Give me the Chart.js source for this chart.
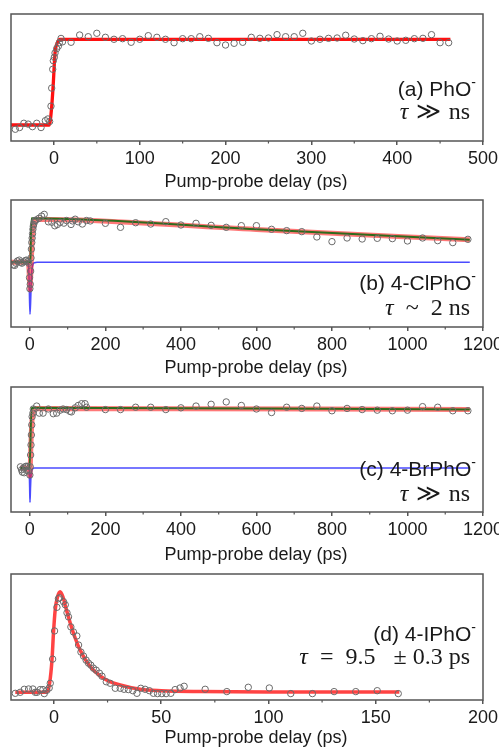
<!DOCTYPE html>
<html><head><meta charset="utf-8">
<script src="https://cdn.jsdelivr.net/npm/chart.js@4/dist/chart.umd.min.js"></script>
<style>
html,body{margin:0;padding:0;background:#fff;}
#wrap{position:relative;width:499px;height:750px;overflow:hidden;background:#fff;}
canvas{position:absolute;left:0;}
</style></head><body><div id="wrap">
<canvas id="ca" width="499" height="190" style="top:0px"></canvas>
<canvas id="cb" width="499" height="187" style="top:190px"></canvas>
<canvas id="cc" width="499" height="187" style="top:377px"></canvas>
<canvas id="cd" width="499" height="186" style="top:564px"></canvas>
</div>
<script>
// ---------- DATA ----------
const axisTitle = 'Pump-probe delay (ps)';

// (a) PhO-
const ticksA = [0, 100, 200, 300, 400, 500];
const minorA = [50, 150, 250, 350, 450];
const dataAx = [-45,-40,-35,-30,-25,-20,-15,-10,-7,-5,-3.4,-2.6,-1.4,-0.7,0.5,1.3,3.2,5.2,6.3,8.3,
  10,20,30,40,50,60,70,80,90,100,110,120,130,140,150,160,170,180,190,200,210,220,230,240,250,260,270,280,290,300,
  310,320,330,340,350,360,370,380,390,400,410,420,430,440,450,460];
const dataAy = [-0.05,-0.03,0.02,0.01,-0.02,0.02,-0.03,0.05,0.07,0.04,0.22,0.43,0.65,0.75,0.79,0.84,0.89,0.92,0.96,1.01,
  0.97,0.965,1.05,1.03,1.07,1.023,1.0,1.007,0.965,1.0,1.042,1.023,1.0,0.96,1.007,1.007,1.03,1.011,0.96,0.933,0.953,0.965,1.023,1.011,1.015,1.054,1.03,1.03,1.07,0.98,
  1.0,1.011,1.015,1.047,1.003,0.984,1.007,1.035,1.003,0.98,0.988,1.007,1.011,1.054,0.96,0.96];
const fitAx = [-50,-5.4,-2.6,-0.7,1.3,4,7,462];
const fitAy = [0,0,0.21,0.49,0.84,0.96,1.0,1.0];

// (b) 4-ClPhO-
const ticksB = [0, 200, 400, 600, 800, 1000, 1200];
const minorB = [100, 300, 500, 700, 900, 1100];
const dataBx = [-44,-40,-37,-33,-28,-24,-21,-16,-12,-9,-5,-3,
  -1,0,1,2,3,4,5,6,7,8,9,10,12,14,
  16,24,31,38,49,58,66,73,80,90,97,109,113,120,128,139,150,160,
  200,240,280,320,360,400,440,480,520,560,600,640,680,720,760,800,840,880,920,960,1000,1040,1080,1120,1160];
const dataBy = [-0.06,-0.07,-0.02,0.03,0.05,0.0,-0.02,0.01,0.04,0.05,0.02,-0.02,
  -0.35,-0.6,-0.5,-0.2,0.1,0.3,0.45,0.55,0.65,0.75,0.82,0.86,0.92,0.95,
  0.96,1.0,1.05,1.09,0.92,0.91,0.83,0.86,0.91,0.89,0.95,0.86,0.94,0.98,0.92,0.87,0.95,0.94,
  0.886,0.795,0.90,0.87,0.924,0.848,0.886,0.84,0.795,0.833,0.833,0.75,0.72,0.697,0.576,0.47,0.553,0.53,0.545,0.538,0.485,0.553,0.492,0.447,0.523];
const fitBx = [-50,-5,-2.5,-1,0.3,2,3.5,5,6.4,10.9,15.4,600,1165];
const fitBy = [0,0,-0.12,-0.45,-0.63,-0.35,0.0,0.3,0.55,0.89,0.98,0.745,0.51];
const riseBx = [-50,1.5,2.5,4.5,600,1165];
const riseBy = [0,0,0.5,1.0,0.75,0.51];
const spikeBx = [-50,-6,-3.2,-1.5,0.3,2.2,3.9,6.5,11.8,18.9,1165];
const spikeBy = [0,0,-0.1,-0.59,-1.18,-0.82,-0.36,-0.1,-0.01,0,0];

// (c) 4-BrPhO-
const ticksC = [0, 200, 400, 600, 800, 1000, 1200];
const minorC = [100, 300, 500, 700, 900, 1100];
const dataCx = [-25,-22,-20,-17,-15,-12,-10,-8,-5,-3,
  0,1,2,3,4,5,6,8,
  9,18,25,35,49,62,71,80,88,97,106,110,120,128,137,146,150,
  200,240,280,320,360,400,440,480,520,560,600,640,680,720,760,800,840,880,920,960,1000,1040,1080,1120,1160];
const dataCy = [0.02,-0.03,-0.07,0.0,-0.08,0.02,0.03,-0.04,0.03,-0.05,
  -0.12,0.02,0.22,0.39,0.56,0.73,0.87,0.93,
  1.0,1.05,0.93,0.93,1.0,0.92,0.93,0.98,1.0,0.99,0.96,0.95,1.02,1.06,1.09,1.09,1.03,
  0.99,0.99,1.03,1.03,0.99,1.02,1.05,1.08,1.12,1.06,1.0,0.94,1.03,1.01,1.05,0.97,1.01,0.99,0.98,0.97,0.98,1.04,1.03,0.97,0.97];
const fitCx = [-25,-4,-1.5,0.3,2.2,4.8,9,16,1165];
const fitCy = [0,0,-0.1,-0.13,0.28,0.73,0.95,1.01,0.99];
const riseCx = [-25,-1,4.5,1165];
const riseCy = [0,0,1.02,0.99];
const spikeCx = [-25,-3,-1.5,-0.5,0.3,1.5,3,6,12,1165];
const spikeCy = [0,0,-0.08,-0.35,-0.58,-0.35,-0.12,-0.03,0,0];

// (d) 4-IPhO-
const ticksD = [0, 50, 100, 150, 200];
const minorD = [25, 75, 125, 175];
const dataDx = [-18,-15.7,-13.8,-11.8,-9.8,-8.7,-7.9,-6.4,-5.1,-4.5,-3.3,-2.2,-1.7,-0.6,0.3,1.4,2.1,2.6,4.5,5.3,
  6.1,6.8,7.9,9.1,10.7,11.5,12.6,13.8,15,16.1,17.2,18.4,19.7,21.2,22.4,24.4,26.2,28.6,30.9,32.7,
  34.7,36.8,38.7,40.5,42.5,44.5,46.4,48.3,50.3,52.3,54.5,56.5,58.8,60.7,70.5,80.6,90.6,100.4,110.4,120.5,
  130.6,140.7,150.7,160.5];
const dataDy = [-0.01,0.0,0.03,0.033,0.033,0.0,0.0,0.027,0.027,-0.013,0.02,0.043,0.09,0.33,0.61,0.845,0.93,0.94,0.9,0.87,
  0.79,0.75,0.65,0.6,0.56,0.47,0.40,0.36,0.32,0.29,0.27,0.24,0.22,0.19,0.16,0.105,0.09,0.04,0.04,0.03,
  0.027,0.016,-0.01,0.04,0.03,0.016,-0.01,-0.013,-0.013,-0.013,-0.01,0.027,0.043,0.06,0.03,0.007,0.05,0.043,-0.013,-0.013,
  0.007,0.007,0.016,-0.013];
const fitDx = [-18,-4,-3,-2,-0.9,-0.2,0.6,1.7,2.9,4.2,5.7,7.6,9.9,12.2,15.4,19.2,24.7,30.9,40.2,50,68,100,161];
const fitDy = [0,0,0.01,0.09,0.32,0.59,0.82,0.95,1.0,0.95,0.83,0.69,0.54,0.42,0.30,0.205,0.12,0.073,0.03,0.016,0.008,0.004,0.003];

// ---------- HELPERS ----------
const pts = (xs, ys) => xs.map((x, i) => ({x: x, y: ys[i]}));
const SANS = '"Liberation Sans", Arial, sans-serif';
const SERIF = '"Liberation Serif", "Times New Roman", serif';

function circles(xs, ys) {
  return { data: pts(xs, ys), showLine: false, pointRadius: 3.2, pointHoverRadius: 3.2,
    pointBorderWidth: 1, pointBorderColor: '#6a6a6a', pointBackgroundColor: 'rgba(0,0,0,0)' };
}
function curve(xs, ys, color, width) {
  return { data: pts(xs, ys), showLine: true, pointRadius: 0, borderColor: color, borderWidth: width,
    cubicInterpolationMode: 'monotone', fill: false };
}

function drawRuns(ctx, runs, right, base) {
  let total = 0;
  runs.forEach(r => { ctx.font = r.f; total += ctx.measureText(r.t).width; });
  let x = right - total;
  runs.forEach(r => { ctx.font = r.f; ctx.fillText(r.t, x, base + (r.dy || 0)); x += ctx.measureText(r.t).width; });
}

function panelPlugin(cfg) {
  return {
    id: 'panel_' + cfg.id,
    afterDraw(chart) {
      const ctx = chart.ctx, a = chart.chartArea, xs = chart.scales.x;
      ctx.save();
      ctx.strokeStyle = '#555555'; ctx.lineWidth = 1.5;
      ctx.strokeRect(a.left, a.top, a.right - a.left, a.bottom - a.top);
      ctx.lineWidth = 1.2;
      cfg.minor.forEach(v => {
        const px = xs.getPixelForValue(v);
        ctx.beginPath(); ctx.moveTo(px, a.bottom); ctx.lineTo(px, a.bottom + 2.5); ctx.stroke();
      });
      ctx.fillStyle = '#1a1a1a';
      ctx.textAlign = 'center'; ctx.textBaseline = 'middle';
      ctx.font = '18px ' + SANS;
      ctx.fillText(axisTitle, (a.left + a.right) / 2 + 9, cfg.titleY);
      ctx.textAlign = 'left'; ctx.textBaseline = 'alphabetic';
      drawRuns(ctx, [{t: cfg.name, f: '21px ' + SANS}, {t: '-', f: '14px ' + SANS, dy: -9}], 476, cfg.nameBase);
      drawRuns(ctx, cfg.tau, 470, cfg.tauBase);
      ctx.restore();
    }
  };
}

function makeChart(cfg) {
  return new Chart(document.getElementById(cfg.id), {
    type: 'scatter',
    data: { datasets: cfg.datasets },
    options: {
      responsive: false, animation: false, events: [],
      layout: { padding: { left: 11, right: 16, top: cfg.padTop, bottom: 0 } },
      plugins: { legend: { display: false }, tooltip: { enabled: false } },
      scales: {
        x: {
          type: 'linear', min: cfg.xmin, max: cfg.xmax,
          afterBuildTicks: s => { s.ticks = cfg.ticks.map(v => ({ value: v })); },
          afterFit: s => { s.height = cfg.axisH; s.paddingLeft = 0; s.paddingRight = 0; },
          grid: { display: true, drawOnChartArea: false, drawTicks: true, tickLength: 4, color: '#555555', lineWidth: 1.5 },
          border: { display: false },
          ticks: { color: '#1a1a1a', font: { family: SANS, size: 18 }, padding: 3, maxRotation: 0, autoSkip: false,
                   callback: v => String(v) }
        },
        y: { display: false, min: cfg.ymin, max: cfg.ymax }
      }
    },
    plugins: [panelPlugin(cfg)]
  });
}

const TF = '24px ' + SERIF;
const TI = 'italic 24px ' + SERIF;
const tauGG = [{t: 'τ', f: TI}, {t: ' ≫ ', f: '24px "DejaVu Serif", serif'}, {t: 'ns', f: TF}];

makeChart({ id: 'ca', padTop: 14, axisH: 49, xmin: -50, xmax: 500, ymin: -0.187, ymax: 1.295,
  ticks: ticksA, minor: minorA, titleY: 182, name: '(a) PhO', nameBase: 96, tau: tauGG, tauBase: 119,
  datasets: [ circles(dataAx, dataAy), curve(fitAx, fitAy, '#ff1010', 3.3) ] });

makeChart({ id: 'cb', padTop: 10, axisH: 50, xmin: -50, xmax: 1200, ymin: -1.47, ymax: 1.416,
  ticks: ticksB, minor: minorB, titleY: 178, name: '(b) 4-ClPhO', nameBase: 99.5,
  tau: [{t: 'τ', f: TI}, {t: '\u2002~\u20022 ns', f: TF}], tauBase: 125,
  datasets: [ circles(dataBx, dataBy), curve(riseBx, riseBy, '#2f6b1c', 2), curve(fitBx, fitBy, 'rgba(255,30,30,0.6)', 5),
    curve(spikeBx, spikeBy, '#4b4bff', 1.6) ] });

makeChart({ id: 'cc', padTop: 10, axisH: 52, xmin: -50, xmax: 1200, ymin: -0.746, ymax: 1.373,
  ticks: ticksC, minor: minorC, titleY: 178, name: '(c) 4-BrPhO', nameBase: 98.5, tau: tauGG, tauBase: 123.5,
  datasets: [ circles(dataCx, dataCy), curve(riseCx, riseCy, '#2f6b1c', 2), curve(fitCx, fitCy, 'rgba(255,30,30,0.6)', 5),
    curve(spikeCx, spikeCy, '#4b4bff', 1.6) ] });

makeChart({ id: 'cd', padTop: 10, axisH: 50, xmin: -20, xmax: 200, ymin: -0.0765, ymax: 1.176,
  ticks: ticksD, minor: minorD, titleY: 174, name: '(d) 4-IPhO', nameBase: 76.5,
  tau: [{t: 'τ', f: TI}, {t: '\u2002=\u20029.5 \u2002± 0.3 ps', f: TF}], tauBase: 100,
  datasets: [ circles(dataDx, dataDy), curve(fitDx, fitDy, 'rgba(255,20,20,0.8)', 3.5) ] });
</script>
</body></html>
